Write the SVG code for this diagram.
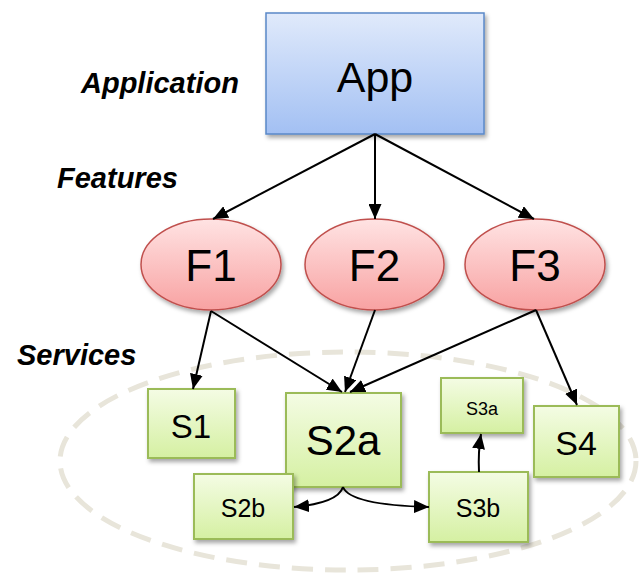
<svg xmlns="http://www.w3.org/2000/svg" width="641" height="573" viewBox="0 0 641 573">
<style>
.lbl{font-family:"Liberation Sans",Arial,sans-serif;font-weight:bold;font-style:italic;font-size:29px;fill:#000}
.t{font-family:"Liberation Sans",Arial,sans-serif;fill:#000;text-anchor:middle}
.app{fill:url(#gBlue);stroke:#5a88c8;stroke-width:1.5}
.feat{fill:url(#gRed);stroke:#c0504d;stroke-width:1.5}
.svc{fill:url(#gGreen);stroke:#9bbb59;stroke-width:2}
.c{fill:none;stroke:#000;stroke-width:2;marker-end:url(#arr)}
</style>
<defs>
<linearGradient id="gBlue" x1="0" y1="0" x2="0" y2="1"><stop offset="0" stop-color="#e0eafb"/><stop offset="1" stop-color="#a3c0f3"/></linearGradient>
<linearGradient id="gRed" x1="0" y1="0" x2="0" y2="1"><stop offset="0" stop-color="#ffe3e3"/><stop offset="1" stop-color="#f8a2a2"/></linearGradient>
<linearGradient id="gGreen" x1="0" y1="0" x2="0" y2="1"><stop offset="0" stop-color="#f4fce4"/><stop offset="1" stop-color="#d5f0a2"/></linearGradient>
<filter id="sh" x="-20%" y="-20%" width="150%" height="150%"><feDropShadow dx="2" dy="3" stdDeviation="2" flood-color="#000" flood-opacity="0.35"/></filter>
<marker id="arr" markerUnits="userSpaceOnUse" markerWidth="15" markerHeight="13" refX="15" refY="6.5" orient="auto"><path d="M0,0 L15,6.5 L0,13 z" fill="#000"/></marker>
</defs>
<ellipse id="services-boundary" cx="348" cy="461" rx="288" ry="109" fill="none" stroke="#e8e5da" stroke-width="5" stroke-dasharray="21 12"/>
<text class="lbl" x="81" y="93">Application</text>
<text class="lbl" x="57" y="188">Features</text>
<text class="lbl" x="17" y="365">Services</text>
<g id="App"><rect class="app" x="266" y="13" width="218" height="121" filter="url(#sh)"/><text class="t" x="375" y="92" font-size="43">App</text></g>
<g id="F1"><ellipse class="feat" cx="211" cy="264.5" rx="70" ry="45.5" filter="url(#sh)"/><text class="t" x="211" y="281" font-size="44">F1</text></g>
<g id="F2"><ellipse class="feat" cx="374.5" cy="264.5" rx="69.5" ry="45.5" filter="url(#sh)"/><text class="t" x="374.5" y="281" font-size="44">F2</text></g>
<g id="F3"><ellipse class="feat" cx="535" cy="264.5" rx="70" ry="45.5" filter="url(#sh)"/><text class="t" x="535" y="281" font-size="44">F3</text></g>
<g id="S1"><rect class="svc" x="148" y="389" width="87" height="69" filter="url(#sh)"/><text class="t" x="191" y="438" font-size="33">S1</text></g>
<g id="S2a"><rect class="svc" x="286" y="393" width="115" height="94" filter="url(#sh)"/><text class="t" x="343" y="455" font-size="42">S2a</text></g>
<g id="S2b"><rect class="svc" x="194" y="474" width="99" height="65" filter="url(#sh)"/><text class="t" x="243" y="517" font-size="25">S2b</text></g>
<g id="S3a"><rect class="svc" x="441" y="378" width="82" height="55" filter="url(#sh)"/><text class="t" x="482" y="415" font-size="18">S3a</text></g>
<g id="S3b"><rect class="svc" x="429" y="472" width="99" height="70" filter="url(#sh)"/><text class="t" x="478" y="517" font-size="25">S3b</text></g>
<g id="S4"><rect class="svc" x="534" y="406" width="85" height="71" filter="url(#sh)"/><text class="t" x="576" y="455" font-size="34">S4</text></g>
<g id="connectors">
<line class="c" x1="375" y1="134" x2="213" y2="219"/>
<line class="c" x1="375" y1="134" x2="375" y2="219"/>
<line class="c" x1="375" y1="134" x2="534" y2="219"/>
<line class="c" x1="211" y1="311" x2="193" y2="389"/>
<line class="c" x1="211" y1="311" x2="342" y2="392"/>
<line class="c" x1="375" y1="310" x2="345" y2="392"/>
<line class="c" x1="536" y1="310" x2="350" y2="392"/>
<line class="c" x1="536" y1="310" x2="577" y2="405"/>
<path class="c" d="M343,487 Q338,503 294,507"/>
<path class="c" d="M343,487 Q350,505 429,507"/>
<path class="c" d="M479,472 Q478,452 481,434"/>
</g>
</svg>
